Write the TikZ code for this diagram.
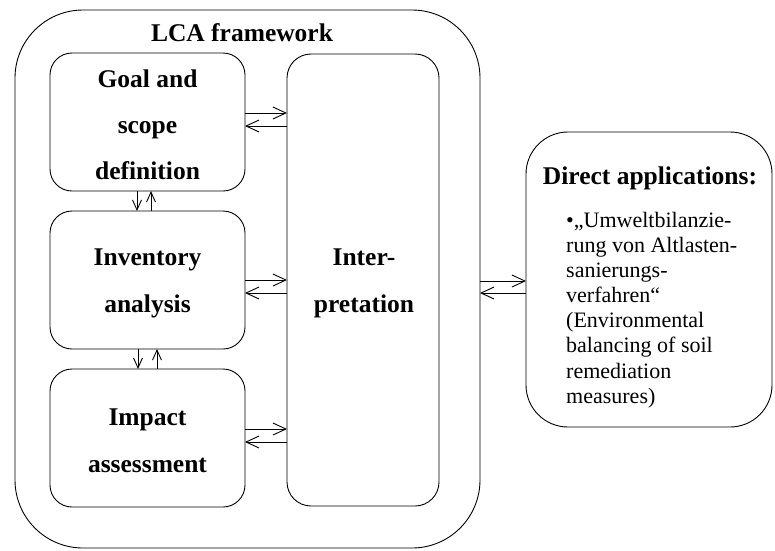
\documentclass[tikz,border=0pt]{standalone}
\usepackage{fontspec}
\setmainfont{Liberation Serif}
\usetikzlibrary{arrows.meta}
\begin{document}
\begin{tikzpicture}[x=1pt,y=-1pt,
  box/.style={draw, line width=0.9pt, inner sep=0pt, outer sep=0pt},
  hd/.style={font=\bfseries\fontsize{25.5}{30}\selectfont, anchor=base, inner sep=0pt},
  harr/.style={line width=0.9pt, -{Straight Barb[length=13pt,width=12pt,line width=0.9pt]}},
  varr/.style={line width=0.9pt, -{Straight Barb[length=10pt,width=9pt,line width=0.9pt]}}]
\useasboundingbox (0,0) rectangle (775,550);
% boxes
\node[box, rounded corners=68pt, minimum width=465pt, minimum height=538pt] (lca) at (247.5,279) {};
\node[box, rounded corners=22pt, minimum width=195pt, minimum height=138pt] (goal) at (147.5,122) {};
\node[box, rounded corners=22pt, minimum width=195pt, minimum height=138pt] (inv) at (147.5,280) {};
\node[box, rounded corners=22pt, minimum width=195pt, minimum height=138pt] (imp) at (147.5,438) {};
\node[box, rounded corners=24pt, minimum width=152pt, minimum height=452pt] (interp) at (363,280) {};
\node[box, rounded corners=42pt, minimum width=246pt, minimum height=295pt] (direct) at (649,279.5) {};
% texts
\node[hd] (tlca) at (242,41) {LCA framework};
\node[hd] (tg1) at (147.5,87) {Goal and};
\node[hd] (tg2) at (147.5,133) {scope};
\node[hd] (tg3) at (147.5,179) {definition};
\node[hd] (ti1) at (147.5,265) {Inventory};
\node[hd] (ti2) at (147.5,312) {analysis};
\node[hd] (tm1) at (147.5,425) {Impact};
\node[hd] (tm2) at (147.5,472) {assessment};
\node[hd] (tp1) at (364,265) {Inter-};
\node[hd] (tp2) at (364,312) {pretation};
\node[hd] (td) at (650,184) {Direct applications:};
\node[anchor=north west, inner sep=0pt, align=left,
      font=\fontsize{22}{25.1}\selectfont] (tbody) at (566,212)
  {•„Umweltbilanzie-\\rung von Altlasten-\\sanierungs-\\verfahren“\\(Environmental\\balancing of soil\\remediation\\measures)};
% horizontal arrows
\draw[harr] (goal.east |- 0,113) -- (interp.west |- 0,113);
\draw[harr] (interp.west |- 0,126) -- (goal.east |- 0,126);
\draw[harr] (inv.east |- 0,280) -- (interp.west |- 0,280);
\draw[harr] (interp.west |- 0,293) -- (inv.east |- 0,293);
\draw[harr] (imp.east |- 0,429) -- (interp.west |- 0,429);
\draw[harr] (interp.west |- 0,442) -- (imp.east |- 0,442);
\draw[harr] (lca.east |- 0,281) -- (direct.west |- 0,281);
\draw[harr] (direct.west |- 0,293) -- (lca.east |- 0,293);
% vertical arrows
\draw[varr] (goal.south -| 137,0) -- (inv.north -| 137,0);
\draw[varr] (inv.north -| 151,0) -- (goal.south -| 151,0);
\draw[varr] (inv.south -| 138,0) -- (imp.north -| 138,0);
\draw[varr] (imp.north -| 157,0) -- (inv.south -| 157,0);
\end{tikzpicture}
\end{document}
